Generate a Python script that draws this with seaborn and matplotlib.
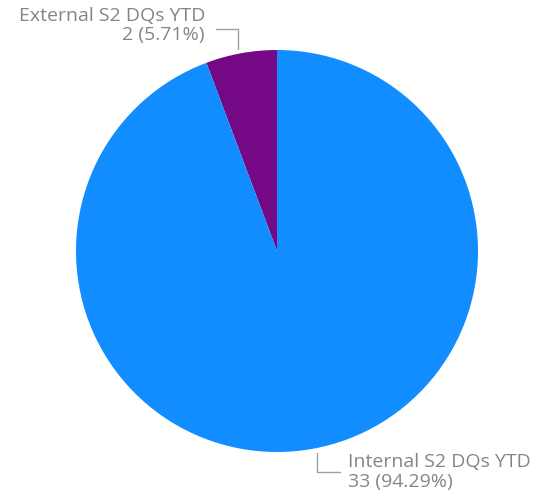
import matplotlib
matplotlib.use("Agg")
import matplotlib.pyplot as plt
import seaborn as sns

categories = ["External S2 DQs YTD", "Internal S2 DQs YTD"]
values = [2, 33]
colors = ["#750985", "#118DFF"]

sns.set_style("white")
plt.rcParams['font.family'] = ['Open Sans', 'DejaVu Sans']

W, H = 537, 496
fig = plt.figure(figsize=(W / 100, H / 100), dpi=100)
ax = fig.add_axes([0, 0, 1, 1])

cx, cy, r = 277, H - 251, 201
ax.pie(values, colors=colors, startangle=90, counterclock=True,
       radius=r, center=(cx, cy), frame=True,
       wedgeprops=dict(linewidth=0))
ax.set_xlim(0, W)
ax.set_ylim(0, H)
ax.set_aspect("equal")
ax.axis("off")

total = sum(values)
labels2 = [f"{v} ({v / total * 100:.2f}%)" for v in values]
tc = "#858585"
lc = "#a0a0a0"
fs = 14

# External label
ax.plot([238, 238, 216], [H - 49, H - 29, H - 29], color=lc, lw=1)
ax.text(205, H - 16, categories[0], ha="right", va="center", fontsize=fs, color=tc)
ax.text(205, H - 35, labels2[0], ha="right", va="center", fontsize=fs, color=tc)

# Internal label
ax.plot([317, 317, 340], [H - 453, H - 472, H - 472], color=lc, lw=1)
ax.text(348, H - 462, categories[1], ha="left", va="center", fontsize=fs, color=tc)
ax.text(348, H - 482, labels2[1], ha="left", va="center", fontsize=fs, color=tc)

fig.savefig("out.png", dpi=100, facecolor="white")
